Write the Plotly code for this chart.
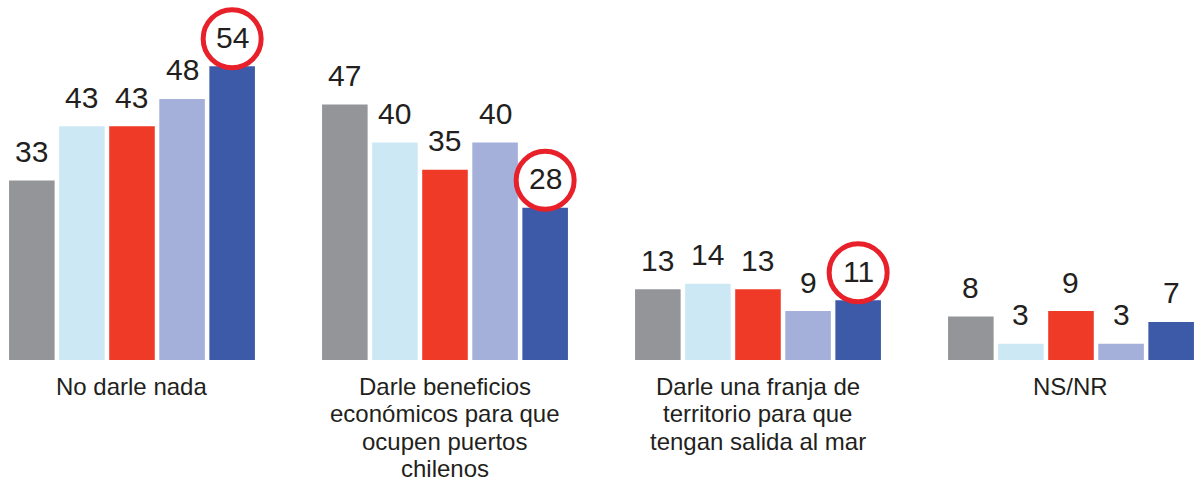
import plotly.graph_objects as go

categories = [
    "No darle nada",
    "Darle beneficios<br>económicos para que<br>ocupen puertos<br>chilenos",
    "Darle una franja de<br>territorio para que<br>tengan salida al mar",
    "NS/NR",
]
series_names = ["Serie 1", "Serie 2", "Serie 3", "Serie 4", "Serie 5"]
series_values = [
    [33, 47, 13, 8],
    [43, 40, 14, 3],
    [43, 35, 13, 9],
    [48, 40, 9, 3],
    [54, 28, 11, 7],
]
series_colors = ["#939598", "#cde8f5", "#ee3a27", "#a4b0d9", "#3c5aa8"]
circled_series = 4
circled_groups = [0, 1, 2]

TEXT = "#231f20"
FONT = "Liberation Sans, Arial, sans-serif"

fig = go.Figure()
for name, vals, col in zip(series_names, series_values, series_colors):
    fig.add_trace(go.Bar(x=categories, y=vals, name=name, marker_color=col,
                         marker_line_width=0, hoverinfo="skip"))

n = len(series_values)
bargap = 0.2
slot = (1 - bargap) / n
annotations = []
for j, vals in enumerate(series_values):
    off = (j - (n - 1) / 2) * slot
    for i, v in enumerate(vals):
        annotations.append(dict(x=i + off, y=v, xref="x", yref="y", text=str(v),
                                showarrow=False, yanchor="middle", yshift=29,
                                font=dict(size=30, color=TEXT, family=FONT)))

for i, cat in enumerate(categories):
    for k, line in enumerate(cat.split("<br>")):
        annotations.append(dict(x=i, y=0, xref="x", yref="paper", text=line,
                                showarrow=False, yanchor="middle",
                                yshift=-26 - 27.5 * k,
                                font=dict(size=24, color=TEXT, family=FONT)))

shapes = []
off_c = (circled_series - (n - 1) / 2) * slot
for i in circled_groups:
    v = series_values[circled_series][i]
    shapes.append(dict(type="circle", xref="x", yref="y",
                       xsizemode="pixel", ysizemode="pixel",
                       xanchor=i + off_c, yanchor=v,
                       x0=-29, x1=29, y0=27.5 - 29, y1=27.5 + 29,
                       line=dict(color="#e8202a", width=5)))

fig.update_layout(
    width=1194, height=484,
    margin=dict(l=0, r=0, t=0, b=124),
    barmode="group", bargap=bargap, bargroupgap=0.09,
    plot_bgcolor="white", paper_bgcolor="white",
    showlegend=False,
    annotations=annotations, shapes=shapes,
    xaxis=dict(range=[-0.4217, 3.393], showticklabels=False, showgrid=False,
               zeroline=False, showline=False, ticks=""),
    yaxis=dict(range=[0, 66.2], visible=False, showgrid=False, zeroline=False),
)
fig.write_html("out.html", config={"displayModeBar": False},
               post_script="document.body.style.margin='0';document.body.style.overflow='hidden';")
